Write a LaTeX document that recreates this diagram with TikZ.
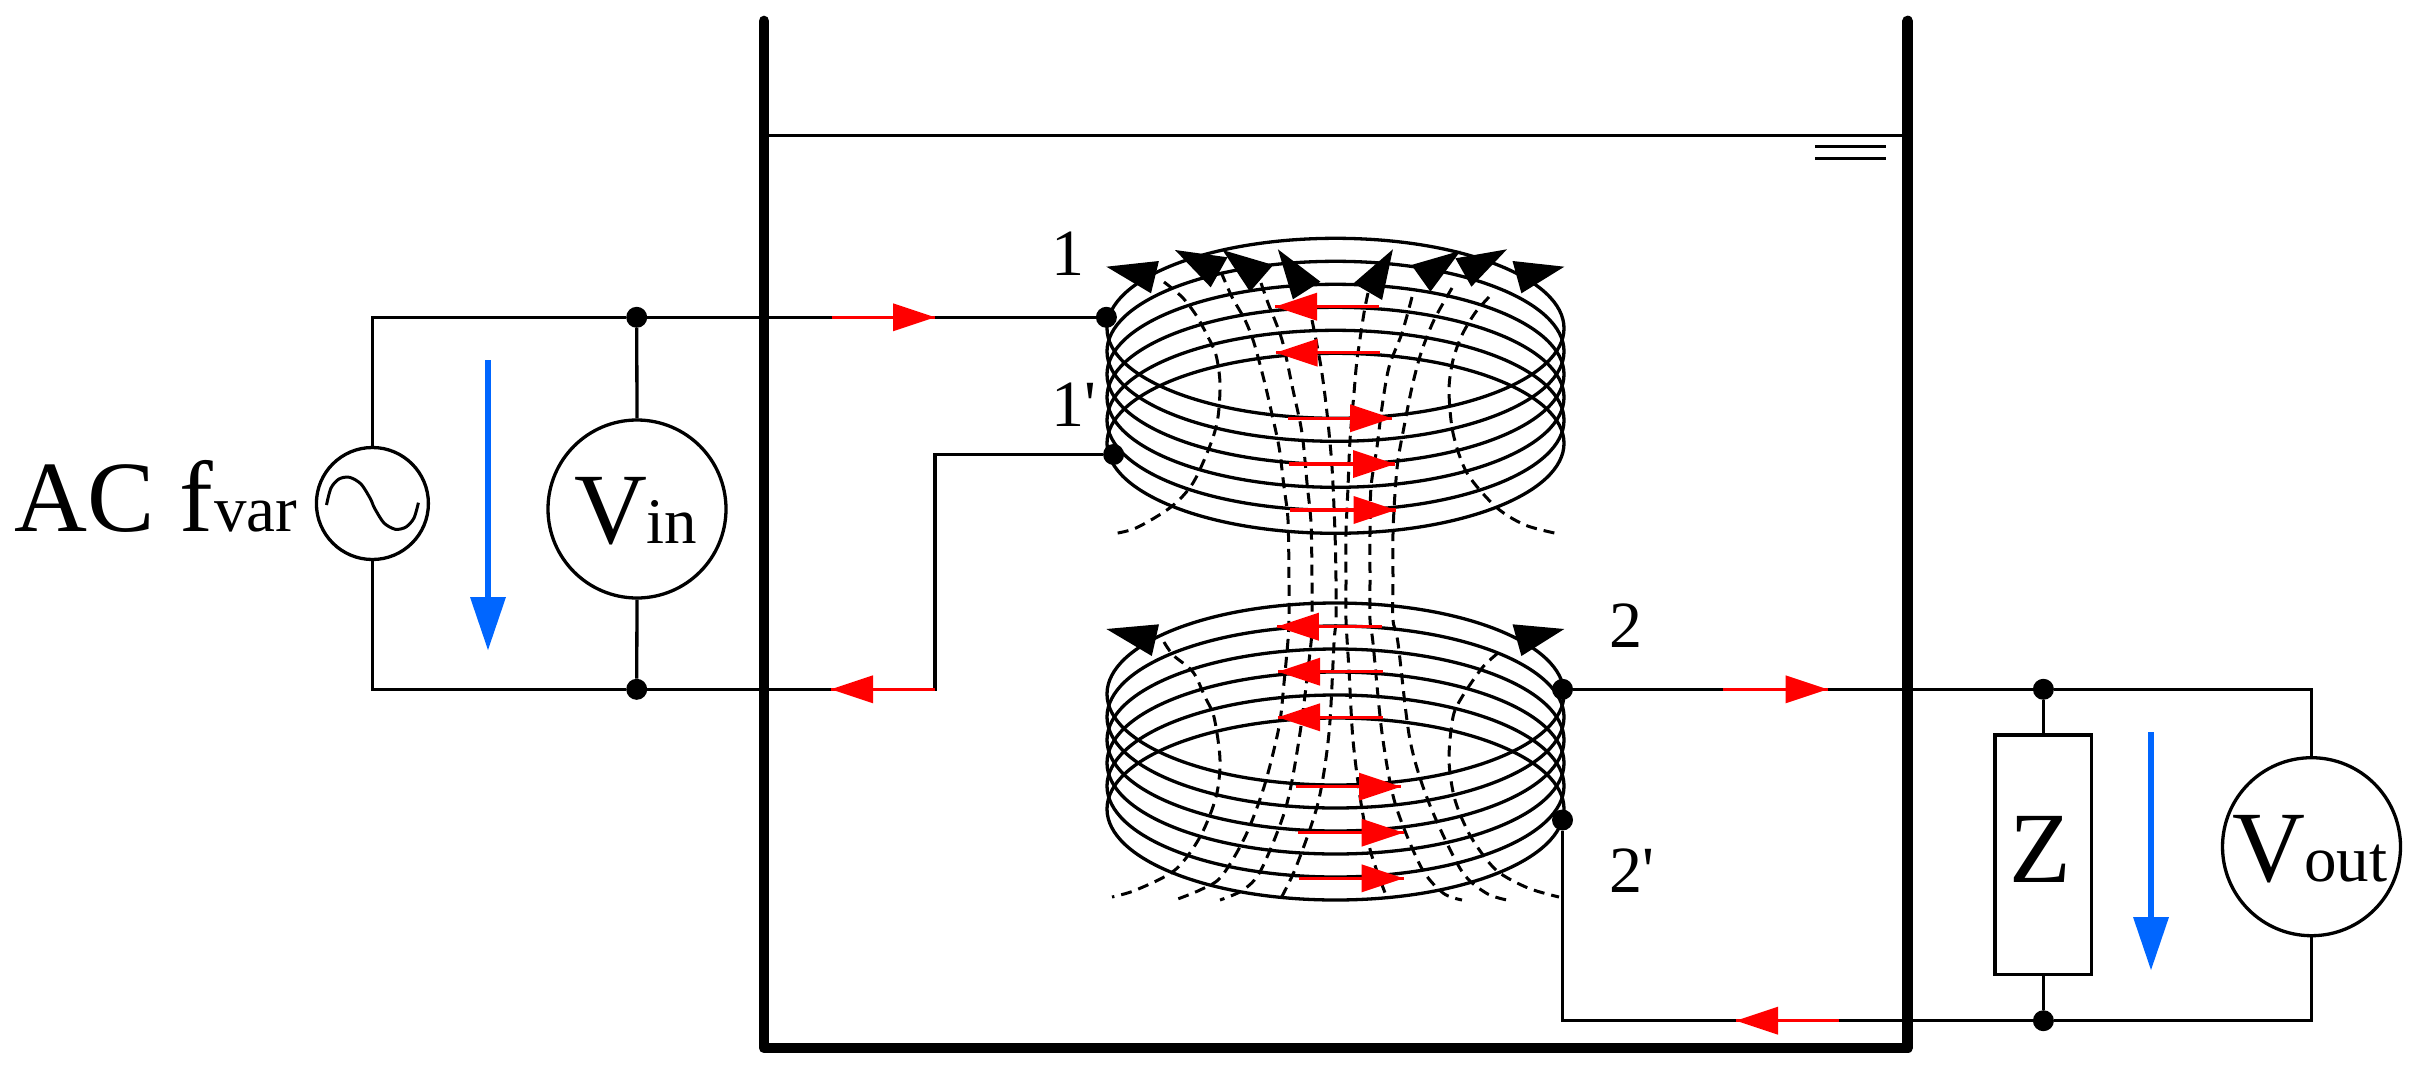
\documentclass[tikz,border=0pt]{standalone}
\usepackage{fontspec}
\setmainfont{Liberation Serif}
\newfontfamily\plainserif{Liberation Serif}[Ligatures=NoCommon]
\newcommand{\bigtxt}{\fontsize{101}{101}\selectfont}
\newcommand{\subtxt}{\fontsize{65}{65}\selectfont}
\newcommand{\numtxt}{\plainserif\fontsize{66}{66}\selectfont}
\tikzset{
  wire/.style={line width=3.3pt},
  tank/.style={line width=10.7pt,line join=round,line cap=round},
  coilring/.style={line width=3.3pt},
  field/.style={line width=3pt,dash pattern=on 11pt off 7pt},
  dotnode/.style={circle,fill=black,inner sep=0pt,minimum size=21pt},
  ringnode/.style={circle,draw,line width=3.3pt,fill=white,inner sep=0pt},
  lab/.style={inner sep=0pt,anchor=base west},
  redstem/.style={line width=3.5pt,draw=arrowred},
  redhead/.style={fill=arrowred},
  bluestem/.style={line width=6pt,draw=arrowblue},
  bluehead/.style={fill=arrowblue},
  fieldhead/.style={fill=black}
}
\definecolor{arrowred}{RGB}{255,0,0}
\definecolor{arrowblue}{RGB}{0,102,255}
% red arrow: tail x, tip x, y
\newcommand{\redarrow}[3]{%
  \draw[redstem] (#1,#3) -- (#2,#3);
  \pgfmathsetmacro{\basex}{#2+(#1<#2?-42:42)}
  \fill[redhead] (#2,#3) -- (\basex,#3-14) -- (\basex,#3+14) -- cycle;
}
\begin{document}
\begin{tikzpicture}[x=1pt,y=-1pt]
\useasboundingbox (0,0) rectangle (2415,1071);
% tank and water
\coordinate (tl) at (764,21);
\coordinate (bl) at (764,1048);
\coordinate (br) at (1907.7,1048);
\coordinate (tr) at (1907.7,21);
\coordinate (wl) at (764,135.3);
\coordinate (wr) at (1907.7,135.3);
\coordinate (wa1) at (1815,146.3);
\coordinate (wa2) at (1886,146.3);
\coordinate (wb1) at (1815,158.3);
\coordinate (wb2) at (1886,158.3);
\draw[wire] (wl) -- (wr);
\draw[wire] (wa1) -- (wa2);
\draw[wire] (wb1) -- (wb2);

% coils
\foreach \k in {0,...,5} {
  \draw[coilring] (1335.5,328.3+23*\k) ellipse [x radius=228.5pt,y radius=90pt];
  \draw[coilring] (1335.5,694+23*\k) ellipse [x radius=228.5pt,y radius=91pt];
}

% field lines, upper coil
\draw[field] plot[smooth] coordinates {(1164,282) (1182,297) (1196,315) (1207,335) (1216,355) (1220,383) (1218,417) (1211,443) (1193,483) (1171,507) (1136,528) (1112,534)};
\draw[field] plot[smooth] coordinates {(1221,272) (1232,297) (1245,320) (1254,343) (1264,380) (1271,410) (1279,447) (1284,487) (1288,520) (1289,580) (1289,620) (1288,640) (1284,683) (1279,727) (1264,787) (1245,837) (1221,877) (1200,890) (1175,900)};
\draw[field] plot[smooth] coordinates {(1261,283) (1268,303) (1282,340) (1293,390) (1302,433) (1307,483) (1311,523) (1312,580) (1312,620) (1311,643) (1300,733) (1286,807) (1261,870) (1243,890) (1220,900)};
\draw[field] plot[smooth] coordinates {(1312,320) (1321,367) (1327,413) (1332,467) (1335,533) (1336,580) (1336,620) (1334,643) (1329,733) (1318,803) (1296,867) (1280,900)};
\draw[field] plot[smooth] coordinates {(1368,293) (1364,313) (1357,360) (1354,393) (1350,440) (1348,487) (1346,533) (1346,580) (1346,620) (1349,670) (1353,740) (1361,803) (1371,853) (1387,898)};
\draw[field] plot[smooth] coordinates {(1412,297) (1402,333) (1389,367) (1382,407) (1377,447) (1371,487) (1370,533) (1370,580) (1370,620) (1373,643) (1382,733) (1395,803) (1421,867) (1443,893) (1462,900)};
\draw[field] plot[smooth] coordinates {(1452,288) (1434,320) (1421,353) (1412,387) (1404,427) (1398,460) (1395,493) (1393,533) (1393,580) (1393,620) (1398,643) (1410,740) (1429,803) (1461,870) (1486,893) (1507,900)};
\draw[field] plot[smooth] coordinates {(1489,297) (1475,313) (1462,335) (1453,360) (1449,390) (1453,433) (1467,473) (1496,507) (1525,525) (1559,534)};
% field lines, lower coil
\draw[field] plot[smooth] coordinates {(1164,642) (1173,655) (1193,672) (1205,697) (1214,717) (1220,760) (1216,797) (1200,837) (1175,870) (1136,890) (1112,897)};
\draw[field] plot[smooth] coordinates {(1498,653) (1482,668) (1462,697) (1453,717) (1449,760) (1455,800) (1471,837) (1496,870) (1528,888) (1559,897)};

% source side
\node[ringnode,minimum size=112pt] (ac) at (372.4,503.5) {};
\node[ringnode,minimum size=178pt] (vin) at (637,509) {};
\node[dotnode] (j1) at (636.7,317.3) {};
\node[dotnode] (j2) at (636.7,689.3) {};
\coordinate (c1) at (372.4,317.3);
\coordinate (c2) at (372.4,689.3);
\node[dotnode] (t1) at (1106.4,317.3) {};
\node[dotnode] (t1p) at (1113.6,454.5) {};
\coordinate (c3) at (935,689.3);
\coordinate (c4) at (935,454.5);
\draw[wire] (ac.north) -- (c1) -- (j1) -- (t1);
\draw[wire] (ac.south) -- (c2) -- (j2) -- (c3) -- (c4) -- (t1p);
\draw[wire] (j1) -- (vin.north);
\draw[wire] (j2) -- (vin.south);
\draw[line width=3pt] plot[smooth] coordinates {(326.5,505) (331,488) (339,479) (349.5,477.3) (361,484) (370,498) (372.4,503.3) (375,509) (384,523) (395.4,529.3) (406,527) (414,518) (418.4,502.7)};

\node[lab] (actxt) at (14,531.7) {\bigtxt AC f};
\node[lab] (acsub) at (214,531.7) {\subtxt var};
\node[lab] (vintxt) at (574,543.3) {\bigtxt V};
\node[lab] (vinsub) at (646,543.3) {\subtxt in};

% load side
\node[dotnode] (t2) at (1562.5,689.3) {};
\node[dotnode] (t2p) at (1562.5,820) {};
\node[dotnode] (j3) at (2043.4,689.3) {};
\node[dotnode] (j4) at (2043.4,1020.7) {};
\node[draw,line width=3.3pt,fill=white,inner sep=0pt,minimum width=96.7pt,minimum height=239.7pt] (z) at (2043.4,854.8) {};
\node[ringnode,minimum size=178pt] (vout) at (2311.5,846.7) {};
\coordinate (c5) at (2311.5,689.3);
\coordinate (c6) at (2311.5,1020.7);
\coordinate (c7) at (1562.5,1020.7);
\draw[wire] (t2) -- (j3) -- (c5) -- (vout.north);
\draw[wire] (t2p) -- (c7) -- (j4) -- (c6) -- (vout.south);
\draw[wire] (j3) -- (z.north);
\draw[wire] (j4) -- (z.south);
\node[lab] (ztxt) at (2009,882.7) {\bigtxt Z};
\node[lab] (vouttxt) at (2232,881.7) {\bigtxt V};
\node[lab] (voutsub) at (2304,881.7) {\subtxt out};

% tank walls over wires
\draw[tank] (tl) -- (bl) -- (br) -- (tr);

% terminal labels
\node[lab] (l1) at (1051,275) {\numtxt 1};
\node[lab] (l1p) at (1051,426.7) {\numtxt 1'};
\node[lab] (l2) at (1609,647.7) {\numtxt 2};
\node[lab] (l2p) at (1609,892.7) {\numtxt 2'};

% black field arrowheads
\fill[fieldhead] (1106.4,266.7) -- (1158.9,261) -- (1151,293.3) -- cycle;
\fill[fieldhead] (1175,250) -- (1227.5,257.3) -- (1210.7,287.3) -- cycle;
\fill[fieldhead] (1222.5,250) -- (1273.2,265) -- (1250,291.7) -- cycle;
\fill[fieldhead] (1277.9,249.3) -- (1320.4,281.7) -- (1292.9,299.3) -- cycle;
\fill[fieldhead] (1392.9,249.3) -- (1353.6,283.3) -- (1382.1,300) -- cycle;
\fill[fieldhead] (1460.7,250.7) -- (1411.4,265) -- (1430.4,291.7) -- cycle;
\fill[fieldhead] (1507,249.3) -- (1455.4,258.3) -- (1471.4,286.7) -- cycle;
\fill[fieldhead] (1564.3,266.7) -- (1512.5,261) -- (1521.4,293.3) -- cycle;
\fill[fieldhead] (1106.4,629) -- (1159,624.3) -- (1151.8,656) -- cycle;
\fill[fieldhead] (1564.3,629) -- (1512.5,624.3) -- (1521.4,656) -- cycle;

% blue voltage arrows
\draw[bluestem] (488,360) -- (488,600);
\fill[bluehead] (488,650) -- (470,597) -- (506,597) -- cycle;
\draw[bluestem] (2151,732) -- (2151,920);
\fill[bluehead] (2151,970) -- (2133,917) -- (2169,917) -- cycle;

% red current arrows
\redarrow{832}{935}{317.3}
\redarrow{935}{831}{689.3}
\redarrow{1723}{1827.6}{689.3}
\redarrow{1839}{1736}{1020.7}
\redarrow{1378.6}{1275}{306.7}
\redarrow{1379.6}{1275.7}{352.7}
\redarrow{1287.5}{1392}{418.3}
\redarrow{1289}{1395}{464}
\redarrow{1290}{1395.7}{510}
\redarrow{1382}{1276.8}{626.7}
\redarrow{1383}{1278}{671.7}
\redarrow{1383}{1278}{717.3}
\redarrow{1296.4}{1401}{786.7}
\redarrow{1298}{1403.6}{832.7}
\redarrow{1299}{1403.6}{878.3}
\end{tikzpicture}
\end{document}
